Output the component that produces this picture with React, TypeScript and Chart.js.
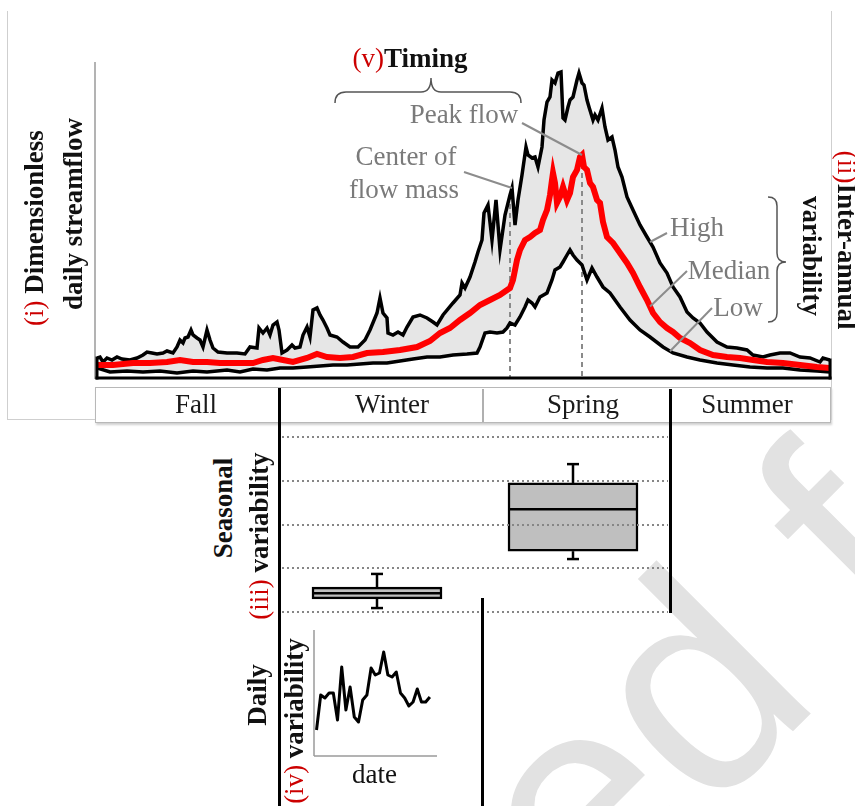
import React, { useEffect, useRef } from "react";
import { Chart, registerables } from "chart.js";

Chart.register(...registerables);

const SERIF = '"Liberation Serif", "Times New Roman", Times, serif';
const RED = "#cc0000";
const GRAY_TEXT = "#7a7a7a";

// ---------------- data ----------------
// Hydrograph: [day of water year (0 = start of fall), dimensionless flow]
const HIGH: [number, number][] = [
  [0, 1.9], [1.5, 2.0], [3, 1.5], [5, 1.9], [7.5, 1.7], [10, 2.0], [12.5, 1.8], [16.5, 1.7],
  [20, 1.9], [23, 2.2], [25, 2.5], [27.5, 2.4], [30, 2.3], [33, 2.4], [35, 2.6], [38, 2.4],
  [40, 3.0], [41.5, 3.7], [43, 3.4], [44, 3.9], [45.5, 4.0], [47, 4.7], [48, 4.2], [50, 3.9],
  [51.5, 3.7], [53, 3.0], [55, 4.7], [56.5, 3.7], [58, 2.9], [60.5, 2.5], [65, 2.4], [70, 2.4],
  [74, 2.3], [76.5, 3.0], [80, 2.9], [81, 4.9], [83, 4.4], [85, 4.9], [86.5, 4.2], [88, 5.2],
  [90, 5.5], [91, 4.7], [92.5, 2.4], [95, 2.7], [97.5, 3.2], [99, 2.9], [101.5, 3.0], [103, 4.2],
  [105, 5.0], [106.5, 4.0], [108, 6.7], [110, 6.9], [111.5, 6.2], [113, 5.7], [115, 4.9], [116.5, 4.2],
  [120, 4.0], [123, 3.5], [126.5, 3.0], [130.5, 3.0], [134, 3.7], [136.5, 4.7], [140, 6.4], [141.5, 7.9],
  [143, 6.4], [145, 5.9], [145.5, 4.4], [148, 4.2], [150.5, 4.5], [153, 4.2], [155, 5.0], [158, 6.0],
  [161.5, 6.2], [165, 5.9], [168, 5.5], [170, 5.2], [173, 6.2], [178, 7.4], [181.5, 8.2], [182.5, 9.4],
  [184, 8.9], [186.5, 10.0], [189, 11.5], [190.5, 12.5], [192.5, 13.7], [193.5, 16.4], [195.5, 17.2], [197.5, 13.7],
  [199.5, 17.7], [201.5, 12.7], [204, 16.2], [206.5, 18.2], [207.5, 18.9], [209, 15.2], [210.5, 17.7], [212.5, 20.2],
  [214.5, 23.0], [215.5, 22.2], [217.5, 21.9], [219, 22.0], [220.5, 21.0], [222.5, 23.0], [223.5, 25.7], [225, 27.5],
  [226.5, 28.0], [227.5, 29.7], [229, 29.4], [230.5, 30.4], [232, 30.5], [233, 25.9], [234, 25.7], [235.5, 27.0],
  [236.5, 27.7], [238, 28.0], [240, 29.7], [241, 30.4], [242.5, 29.4], [243.5, 29.2], [245, 27.7], [246, 27.0],
  [248, 25.7], [249, 26.2], [250.5, 25.7], [252.5, 26.9], [254, 25.0], [255.5, 23.7], [257.5, 24.0], [259, 22.7],
  [260.5, 21.0], [262.5, 20.0], [265, 18.0], [268, 16.7], [271.5, 15.2], [275, 14.0], [278, 13.0], [281.5, 11.4],
  [285, 10.4], [288, 9.0], [291.5, 8.0], [295, 6.5], [298, 5.9], [301.5, 5.4], [305, 4.5], [310, 3.5],
  [315, 3.0], [320, 2.9], [325, 2.7], [328, 2.2], [333, 2.0], [336.5, 2.2], [341.5, 2.4], [346.5, 2.4],
  [351.5, 2.0], [356.5, 1.9], [361.5, 1.5], [363, 1.9], [366.5, 1.7],
];

const MEDIAN: [number, number][] = [
  [0, 1.2], [8, 1.2], [18, 1.4], [26.5, 1.4], [35, 1.5], [41.5, 1.7], [48, 1.5], [55, 1.5],
  [61.5, 1.4], [68, 1.4], [78, 1.4], [83, 1.7], [88, 1.9], [93, 1.7], [98, 1.5], [105, 1.9],
  [110, 2.3], [115, 2.0], [121.5, 1.9], [128, 2.0], [135, 2.4], [143, 2.5], [151.5, 2.7], [160, 3.0],
  [166.5, 3.6], [171.5, 4.4], [176.5, 4.9], [181.5, 5.7], [186.5, 6.4], [191.5, 7.2], [196.5, 7.7], [201.5, 8.2],
  [206.5, 8.9], [208, 9.7], [210, 11.7], [211.5, 12.7], [214, 13.7], [216.5, 14.0], [219, 14.4], [221.5, 14.7],
  [223, 15.7], [225, 16.7], [226.5, 18.2], [227.5, 19.7], [228, 20.4], [229, 19.4], [230, 17.4], [231.5, 18.0],
  [233, 19.0], [235, 17.7], [236.5, 18.4], [238, 20.0], [240, 20.7], [241.5, 22.0], [242.5, 22.2], [243.5, 21.0],
  [245, 20.7], [246.5, 19.4], [248, 19.0], [250, 17.7], [251.5, 17.4], [253, 15.5], [255, 14.0], [258, 13.4],
  [261.5, 12.4], [265, 11.4], [268, 10.4], [271.5, 9.0], [275, 7.7], [278, 6.4], [281.5, 5.5], [285, 4.9],
  [288, 4.5], [291.5, 3.9], [296.5, 3.4], [301.5, 2.7], [308, 2.2], [315, 2.0], [321.5, 1.9], [328, 1.7],
  [335, 1.5], [343, 1.4], [351.5, 1.2], [360, 1.0], [366.5, 0.9],
];

const LOW: [number, number][] = [
  [0, 0.9], [6.5, 0.5], [15, 0.6], [23, 0.5], [31.5, 0.6], [40, 0.4], [48, 0.6], [55, 0.5],
  [65, 0.7], [71.5, 0.5], [78, 0.8], [85, 0.7], [91.5, 0.9], [98, 0.9], [105, 1.0], [111.5, 1.1],
  [118, 1.2], [125, 1.2], [131.5, 1.3], [138, 1.4], [145, 1.4], [151.5, 1.6], [158, 1.8], [165, 2.0],
  [171.5, 2.0], [178, 2.2], [185, 2.3], [190, 2.4], [191.5, 3.0], [194, 4.4], [196.5, 4.5], [200, 4.4],
  [203, 4.5], [205, 4.9], [206.5, 5.4], [209, 5.2], [211.5, 6.0], [214, 7.0], [215.5, 7.7], [217.5, 7.4],
  [219, 7.0], [221.5, 8.0], [225, 8.4], [227.5, 9.7], [229, 10.7], [231.5, 11.0], [233, 11.5], [235, 12.2],
  [236.5, 12.7], [238, 12.2], [240, 11.7], [242.5, 11.2], [245, 9.7], [247.5, 10.9], [250, 10.0], [253, 9.0],
  [256.5, 8.4], [261.5, 7.0], [266.5, 5.7], [271.5, 4.7], [276.5, 4.0], [283, 3.0], [288, 2.4], [295, 2.0],
  [301.5, 1.7], [310, 1.4], [318, 1.2], [326.5, 1.0], [335, 0.9], [343, 0.9], [351.5, 0.7], [360, 0.6],
  [366.5, 0.5],
];

const WATER_YEAR_END = 366.5;
const FLOW_MAX = 31.5;
const CENTER_OF_MASS_DAY = 206.5;
const PEAK_DAY = 242.5;

const SEASONS = ["Fall", "Winter", "Spring", "Summer"];

// Seasonal box plots
const BOX_SEASONS = ["Winter", "Spring"];
const BOX_MIN = [0.09, 1.21];
const BOX_Q1 = [0.3, 1.39];
const BOX_MEDIAN = [0.43, 2.35];
const BOX_Q3 = [0.57, 2.95];
const BOX_MAX = [0.87, 3.38];
const BOX_GRID_LEVELS = [0, 1, 2, 3, 4];

// Daily variability inset
const DAILY_DAYS = [1, 2, 3, 4, 5, 6, 7, 8, 9, 10, 11, 12, 13, 14, 15, 16, 17, 18, 19, 20, 21, 22, 23, 24, 25, 26, 27, 28];
const DAILY_VALUES = [2.6, 6.1, 5.8, 6.3, 6.3, 3.6, 8.9, 4.6, 6.9, 3.9, 3.4, 5.6, 6.1, 8.8, 8.1, 8.3, 10.4, 8.1, 7.9, 8.4, 6.3, 5.8, 5.0, 5.4, 6.7, 5.4, 5.4, 5.9];

// ---------------- helpers ----------------
function flowAt(s: [number, number][], d: number): number {
  for (let i = 1; i < s.length; i++) {
    if (d <= s[i][0]) {
      const [x0, y0] = s[i - 1];
      const [x1, y1] = s[i];
      return y0 + ((y1 - y0) * (d - x0)) / (x1 - x0);
    }
  }
  return s[s.length - 1][1];
}

function seg(ctx: CanvasRenderingContext2D, x1: number, y1: number, x2: number, y2: number) {
  ctx.beginPath();
  ctx.moveTo(x1, y1);
  ctx.lineTo(x2, y2);
  ctx.stroke();
}

const HYD_TOP = 40; // canvas page offset

// label-side anchors of leader lines (page px) and the curve point they point to
const LEADERS: { from: [number, number]; series: [number, number][]; day: number }[] = [
  { from: [522, 123], series: MEDIAN, day: PEAK_DAY },
  { from: [464, 172], series: HIGH, day: 207.5 },
  { from: [667, 233], series: HIGH, day: 276.5 },
  { from: [687, 271], series: MEDIAN, day: 276.5 },
  { from: [712, 308], series: LOW, day: 286.5 },
];

const hydroDecor = {
  id: "hydroDecor",
  beforeDatasetsDraw(chart: any) {
    const { ctx, chartArea: a, scales } = chart;
    const xs = scales.x;
    const ys = scales.y;
    ctx.save();
    ctx.strokeStyle = "#8a8a8a";
    ctx.lineWidth = 2;
    ctx.setLineDash([5, 4]);
    const marks: [number, [number, number][]][] = [
      [CENTER_OF_MASS_DAY, HIGH],
      [PEAK_DAY, MEDIAN],
    ];
    marks.forEach(([d, s]) => {
      const px = xs.getPixelForValue(d);
      seg(ctx, px, ys.getPixelForValue(flowAt(s, d)), px, a.bottom);
    });
    ctx.restore();
  },
  afterDatasetsDraw(chart: any) {
    const { ctx, chartArea: a, scales } = chart;
    const xs = scales.x;
    const ys = scales.y;
    ctx.save();
    // axes
    ctx.strokeStyle = "#9a9a9a";
    ctx.lineWidth = 1.5;
    seg(ctx, a.left - 2, a.top, a.left - 2, a.bottom + 2);
    ctx.strokeStyle = "#000";
    ctx.lineWidth = 3;
    ctx.lineCap = "square";
    seg(ctx, a.left, a.bottom + 1, a.right, a.bottom + 1);
    seg(ctx, a.left, ys.getPixelForValue(HIGH[0][1]), a.left, a.bottom + 1);
    seg(ctx, a.right, ys.getPixelForValue(HIGH[HIGH.length - 1][1]), a.right, a.bottom + 1);
    ctx.lineCap = "butt";
    // leader lines
    ctx.strokeStyle = "#8c8c8c";
    ctx.lineWidth = 2;
    LEADERS.forEach((l) => {
      seg(
        ctx,
        l.from[0],
        l.from[1] - HYD_TOP,
        xs.getPixelForValue(l.day),
        ys.getPixelForValue(flowAt(l.series, l.day))
      );
    });
    // braces
    ctx.strokeStyle = "#555";
    ctx.lineWidth = 1.5;
    {
      const x1 = 335, x2 = 521, xt = 431, y = 92 - HYD_TOP, d = 11, t = 14;
      ctx.beginPath();
      ctx.moveTo(x1, y + d);
      ctx.quadraticCurveTo(x1, y, x1 + d, y);
      ctx.lineTo(xt - 10, y);
      ctx.quadraticCurveTo(xt, y, xt, y - t);
      ctx.quadraticCurveTo(xt, y, xt + 10, y);
      ctx.lineTo(x2 - d, y);
      ctx.quadraticCurveTo(x2, y, x2, y + d);
      ctx.stroke();
    }
    {
      const x = 777, y1 = 197 - HYD_TOP, y2 = 322 - HYD_TOP, yt = 262 - HYD_TOP, d = 9, t = 9;
      ctx.beginPath();
      ctx.moveTo(x - d, y1);
      ctx.quadraticCurveTo(x, y1, x, y1 + d);
      ctx.lineTo(x, yt - 9);
      ctx.quadraticCurveTo(x, yt, x + t, yt);
      ctx.quadraticCurveTo(x, yt, x, yt + 9);
      ctx.lineTo(x, y2 - d);
      ctx.quadraticCurveTo(x, y2, x - d, y2);
      ctx.stroke();
    }
    ctx.restore();
  },
};

const boxDecor = {
  id: "boxDecor",
  afterDatasetsDraw(chart: any) {
    const { ctx, chartArea: a, scales } = chart;
    const xs = scales.x;
    const ys = scales.y;
    ctx.save();
    ctx.strokeStyle = "#868686";
    ctx.lineWidth = 2;
    ctx.setLineDash([2, 3]);
    BOX_GRID_LEVELS.forEach((v) => {
      const py = Math.round(ys.getPixelForValue(v));
      seg(ctx, a.left + 3, py, a.right - 3, py);
    });
    ctx.setLineDash([]);
    ctx.strokeStyle = "#000";
    const bars = chart.getDatasetMeta(0).data;
    BOX_SEASONS.forEach((_, i) => {
      const cx = xs.getPixelForValue(i);
      const half = bars[i].width / 2;
      ctx.lineWidth = 2.5;
      const pm = ys.getPixelForValue(BOX_MEDIAN[i]);
      seg(ctx, cx - half, pm, cx + half, pm);
      const pHi = ys.getPixelForValue(BOX_MAX[i]);
      const pLo = ys.getPixelForValue(BOX_MIN[i]);
      seg(ctx, cx, ys.getPixelForValue(BOX_Q3[i]), cx, pHi);
      seg(ctx, cx, ys.getPixelForValue(BOX_Q1[i]), cx, pLo);
      seg(ctx, cx - 6, pHi, cx + 6, pHi);
      seg(ctx, cx - 6, pLo, cx + 6, pLo);
    });
    ctx.restore();
  },
};

const insetAxes = {
  id: "insetAxes",
  beforeDatasetsDraw(chart: any) {
    const { ctx, chartArea: a } = chart;
    ctx.save();
    ctx.strokeStyle = "#9a9a9a";
    ctx.lineWidth = 1.5;
    seg(ctx, a.left, a.top, a.left, a.bottom);
    seg(ctx, a.left, a.bottom, a.right, a.bottom);
    ctx.restore();
  },
};

// ---------------- components ----------------
type Part = { t: string; c?: string; b?: boolean };

function Label(props: { x: number; y: number; rot?: number; parts: Part[]; color?: string; size?: number }) {
  const { x, y, rot = 0, parts, color = "#111", size = 27 } = props;
  return (
    <div
      style={{
        position: "absolute",
        left: x,
        top: y,
        transform: `translate(-50%, -50%) rotate(${rot}deg)`,
        whiteSpace: "pre",
        fontFamily: SERIF,
        fontSize: size,
        lineHeight: 1,
        color,
      }}
    >
      {parts.map((p, i) => (
        <span key={i} style={{ color: p.c || color, fontWeight: p.b ? 700 : 400 }}>
          {p.t}
        </span>
      ))}
    </div>
  );
}

function Rule(props: { left: number; top: number; width: number; height: number; color?: string }) {
  const { left, top, width, height, color = "#000" } = props;
  return <div style={{ position: "absolute", left, top, width, height, background: color }} />;
}

const SEASON_LABEL_X = [196, 392, 583, 747];

export default function App() {
  const hydroRef = useRef<HTMLCanvasElement>(null);
  const boxRef = useRef<HTMLCanvasElement>(null);
  const dailyRef = useRef<HTMLCanvasElement>(null);

  useEffect(() => {
    const common = {
      animation: false as const,
      responsive: false,
      devicePixelRatio: 1,
      events: [] as any[],
    };
    const hydro = new Chart(hydroRef.current as HTMLCanvasElement, {
      type: "line",
      data: {
        datasets: [
          {
            label: "High",
            data: HIGH.map(([x, y]) => ({ x, y })),
            borderColor: "#000",
            borderWidth: 3.5,
            pointRadius: 0,
            tension: 0,
            fill: 2,
            backgroundColor: "#e6e6e6",
            order: 1,
          },
          {
            label: "Median",
            data: MEDIAN.map(([x, y]) => ({ x, y })),
            borderColor: "#ff0000",
            borderWidth: 6,
            pointRadius: 0,
            tension: 0,
            fill: false,
            order: 0,
          },
          {
            label: "Low",
            data: LOW.map(([x, y]) => ({ x, y })),
            borderColor: "#000",
            borderWidth: 3.5,
            pointRadius: 0,
            tension: 0,
            fill: false,
            order: 2,
          },
        ],
      },
      options: {
        ...common,
        layout: { padding: { left: 97, right: 25, top: 22, bottom: 13 } },
        scales: {
          x: { type: "linear", min: 0, max: WATER_YEAR_END, display: false },
          y: { min: 0, max: FLOW_MAX, display: false },
        },
        plugins: {
          legend: { display: false },
          tooltip: { enabled: false },
          filler: { drawTime: "beforeDatasetsDraw" },
        },
      } as any,
      plugins: [hydroDecor],
    });

    const box = new Chart(boxRef.current as HTMLCanvasElement, {
      type: "bar",
      data: {
        labels: BOX_SEASONS,
        datasets: [
          {
            data: BOX_Q1.map((q, i) => [q, BOX_Q3[i]]),
            backgroundColor: "#bfbfbf",
            borderColor: "#000",
            borderWidth: 2.5,
            borderSkipped: false,
            barThickness: 130,
          },
        ],
      } as any,
      options: {
        ...common,
        layout: { padding: { left: 9, right: 9, top: 12, bottom: 8 } },
        scales: {
          x: { display: false },
          y: { min: 0, max: 4, display: false },
        },
        plugins: { legend: { display: false }, tooltip: { enabled: false } },
      } as any,
      plugins: [boxDecor],
    });

    const daily = new Chart(dailyRef.current as HTMLCanvasElement, {
      type: "line",
      data: {
        datasets: [
          {
            data: DAILY_VALUES.map((v, i) => ({ x: DAILY_DAYS[i], y: v })),
            borderColor: "#000",
            borderWidth: 3,
            pointRadius: 0,
            tension: 0,
            borderJoinStyle: "round",
          },
        ],
      } as any,
      options: {
        ...common,
        layout: { padding: { left: 9, right: 8, top: 10, bottom: 9 } },
        scales: {
          x: { type: "linear", min: 0.4, max: 29.7, display: false },
          y: { min: 0, max: 12.6, display: false },
        },
        plugins: { legend: { display: false }, tooltip: { enabled: false } },
      } as any,
      plugins: [insetAxes],
    });

    return () => {
      hydro.destroy();
      box.destroy();
      daily.destroy();
    };
  }, []);

  return (
    <div
      style={{
        position: "absolute",
        left: 0,
        top: 0,
        width: 855,
        height: 806,
        overflow: "hidden",
        background: "#fff",
      }}
    >
      {/* watermark */}
      <div
        style={{
          position: "absolute",
          left: 350,
          top: 815,
          transformOrigin: "0 0",
          transform: "rotate(-45deg)",
          fontFamily: '"Liberation Sans", Arial, sans-serif',
          fontSize: 300,
          lineHeight: 1,
          color: "#e2e2e2",
          whiteSpace: "pre",
        }}
      >
        ted fo
      </div>

      {/* figure frame */}
      <div
        style={{
          position: "absolute",
          left: 7,
          top: 11,
          width: 825,
          height: 409,
          border: "1px solid #cfcfcf",
          borderTop: "none",
          boxSizing: "border-box",
        }}
      />
      {/* season strip */}
      <div
        style={{
          position: "absolute",
          left: 95,
          top: 387,
          width: 736,
          height: 36,
          border: "1.5px solid #b8b8b8",
          boxShadow: "1px 2px 2px #d0d0d0",
          background: "#fff",
          boxSizing: "border-box",
        }}
      />
      <Rule left={482} top={389} width={1.5} height={33} color="#b0b0b0" />

      <canvas ref={hydroRef} width={855} height={350} style={{ position: "absolute", left: 0, top: HYD_TOP }} />
      <canvas ref={boxRef} width={410} height={195} style={{ position: "absolute", left: 270, top: 425 }} />
      <canvas ref={dailyRef} width={140} height={145} style={{ position: "absolute", left: 305, top: 620 }} />

      {/* structural separators */}
      <Rule left={278} top={388} width={3} height={418} />
      <Rule left={669} top={389} width={3} height={224} />
      <Rule left={481} top={598} width={3} height={208} />

      {/* labels */}
      <Label x={410} y={58} parts={[{ t: "(v)", c: RED }, { t: "Timing", b: true }]} />
      <Label x={464} y={114} color={GRAY_TEXT} parts={[{ t: "Peak flow" }]} />
      <Label x={406} y={156} color={GRAY_TEXT} parts={[{ t: "Center of" }]} />
      <Label x={404} y={189} color={GRAY_TEXT} parts={[{ t: "flow mass" }]} />
      <Label x={697} y={227} color={GRAY_TEXT} parts={[{ t: "High" }]} />
      <Label x={729} y={270} color={GRAY_TEXT} parts={[{ t: "Median" }]} />
      <Label x={738} y={307} color={GRAY_TEXT} parts={[{ t: "Low" }]} />

      {SEASONS.map((s, i) => (
        <Label key={s} x={SEASON_LABEL_X[i]} y={404} color="#1a1a1a" parts={[{ t: s }]} />
      ))}

      <Label x={34} y={228} rot={-90} parts={[{ t: "(i) ", c: RED }, { t: "Dimensionless", b: true }]} />
      <Label x={73} y={214} rot={-90} parts={[{ t: "daily streamflow", b: true }]} />
      <Label x={846} y={240} rot={90} parts={[{ t: "(ii)", c: RED }, { t: "Inter-annual", b: true }]} />
      <Label x={811} y={256} rot={90} parts={[{ t: "variability", b: true }]} />

      <Label x={223} y={508} rot={-90} parts={[{ t: "Seasonal", b: true }]} />
      <Label x={259} y={536} rot={-90} parts={[{ t: "(iii) ", c: RED }, { t: "variability", b: true }]} />
      <Label x={257} y={695} rot={-90} parts={[{ t: "Daily", b: true }]} />
      <Label x={294} y={721} rot={-90} parts={[{ t: "(iv) ", c: RED }, { t: "variability", b: true }]} />
      <Label x={374.5} y={774} parts={[{ t: "date" }]} />
    </div>
  );
}
